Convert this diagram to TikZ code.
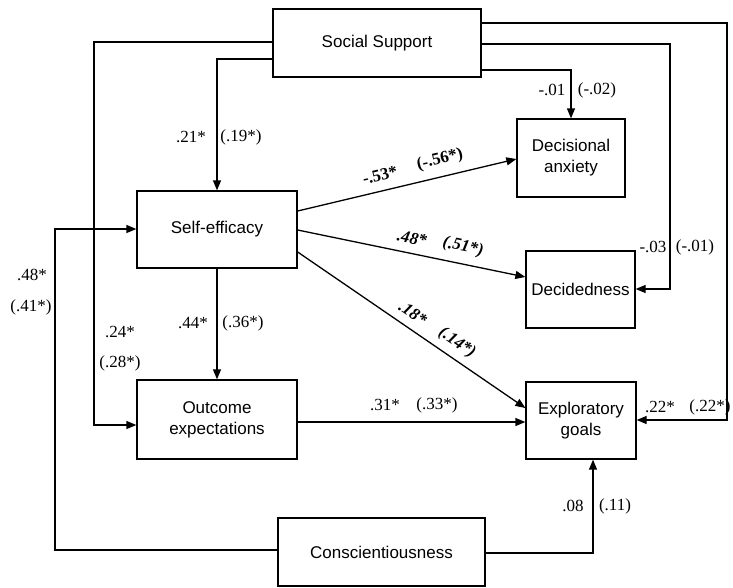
\documentclass[tikz,border=0pt]{standalone}
\usepackage{fontspec}
\setmainfont{Liberation Serif}
\newfontfamily\boxfont{Liberation Sans}
\usetikzlibrary{arrows.meta}
\begin{document}
\begin{tikzpicture}[x=1pt,y=-1pt,
  box/.style={draw,line width=1.3pt,inner sep=0pt,align=center,font=\boxfont\fontsize{17}{21}\selectfont},
  arr/.style={line width=1.3pt,-{Triangle[length=10pt,width=8pt]}},
  lab/.style={font=\fontsize{17}{20}\selectfont,inner sep=1pt},
  blab/.style={font=\bfseries\fontsize{17}{20}\selectfont,inner sep=0pt},
  bilab/.style={font=\bfseries\itshape\fontsize{17}{20}\selectfont,inner sep=0pt}]
\useasboundingbox (0,0) rectangle (733,587);
% nodes
\node[box,minimum width=208pt,minimum height=68pt] (ss) at (377,43) {Social Support};
\node[box,minimum width=160pt,minimum height=77pt] (se) at (217,229.5) {Self-efficacy};
\node[box,minimum width=160pt,minimum height=79pt] (oe) at (217,419.5) {Outcome\\expectations};
\node[box,minimum width=108pt,minimum height=78pt] (da) at (571,158) {Decisional\\anxiety};
\node[box,minimum width=109pt,minimum height=77pt] (dd) at (580.5,289.5) {Decidedness};
\node[box,minimum width=110pt,minimum height=77pt] (eg) at (581,420.5) {Exploratory\\goals};
\node[box,minimum width=207pt,minimum height=68pt] (co) at (381.5,552) {Conscientiousness};
% connectors from Social Support
\draw[arr] (ss.west|-0,42) -| (94,425) -- (oe.west|-0,425);
\draw[arr] (ss.west|-0,59) -| (se.north);
\draw[arr] (ss.east|-0,23) -| (727,420) -- (eg.east|-0,420);
\draw[arr] (ss.east|-0,44) -| (670,289) -- (dd.east|-0,289);
\draw[arr] (ss.east|-0,70) -| (da.north);
% Conscientiousness
\draw[arr] (co.west|-0,550) -| (55,229) -- (se.west|-0,229);
\draw[arr] (co.east|-0,553) -| ([xshift=12pt]eg.south);
% Self-efficacy paths
\draw[arr] (se.east|-0,211) -- (da.west|-0,159);
\draw[arr] (se.east|-0,230) -- (dd.west|-0,277);
\draw[arr] (se.east|-0,252) -- (eg.west|-0,408);
\draw[arr] (se.south) -- (oe.north);
\draw[arr] (oe.east|-0,422) -- (eg.west|-0,422);
% labels
\node[lab] (l21) at (191,137) {.21*};
\node[lab] (l19) at (241,137) {(.19*)};
\node[lab] (l01) at (552,90) {-.01};
\node[lab] (l02) at (597,90) {(-.02)};
\node[lab] (l03) at (653,247) {-.03};
\node[lab] (l01b) at (695,247) {(-.01)};
\node[lab] (l22) at (660,407) {.22*};
\node[lab] (l22b) at (710,407) {(.22*)};
\node[lab] (l48) at (32,275) {.48*};
\node[lab] (l41) at (31,307) {(.41*)};
\node[lab] (l24) at (120,332) {.24*};
\node[lab] (l28) at (120,363) {(.28*)};
\node[lab] (l44) at (193,323) {.44*};
\node[lab] (l36) at (243,323) {(.36*)};
\node[lab] (l31) at (385,405) {.31*};
\node[lab] (l33) at (437,405) {(.33*)};
\node[lab] (l08) at (573,506) {.08};
\node[lab] (l11) at (615,506) {(.11)};
\node[blab,rotate=13.3] (l53) at (380,175) {-.53*};
\node[blab,rotate=13.3] (l56) at (440,160) {(-.56*)};
\node[bilab,rotate=-11.6] (l48b) at (412,238) {.48*};
\node[bilab,rotate=-11.6] (l51) at (463,247) {(.51*)};
\node[bilab,rotate=-34.4] (l18) at (413,313) {.18*};
\node[bilab,rotate=-34.4] (l14) at (457,343) {(.14*)};
\end{tikzpicture}
\end{document}
